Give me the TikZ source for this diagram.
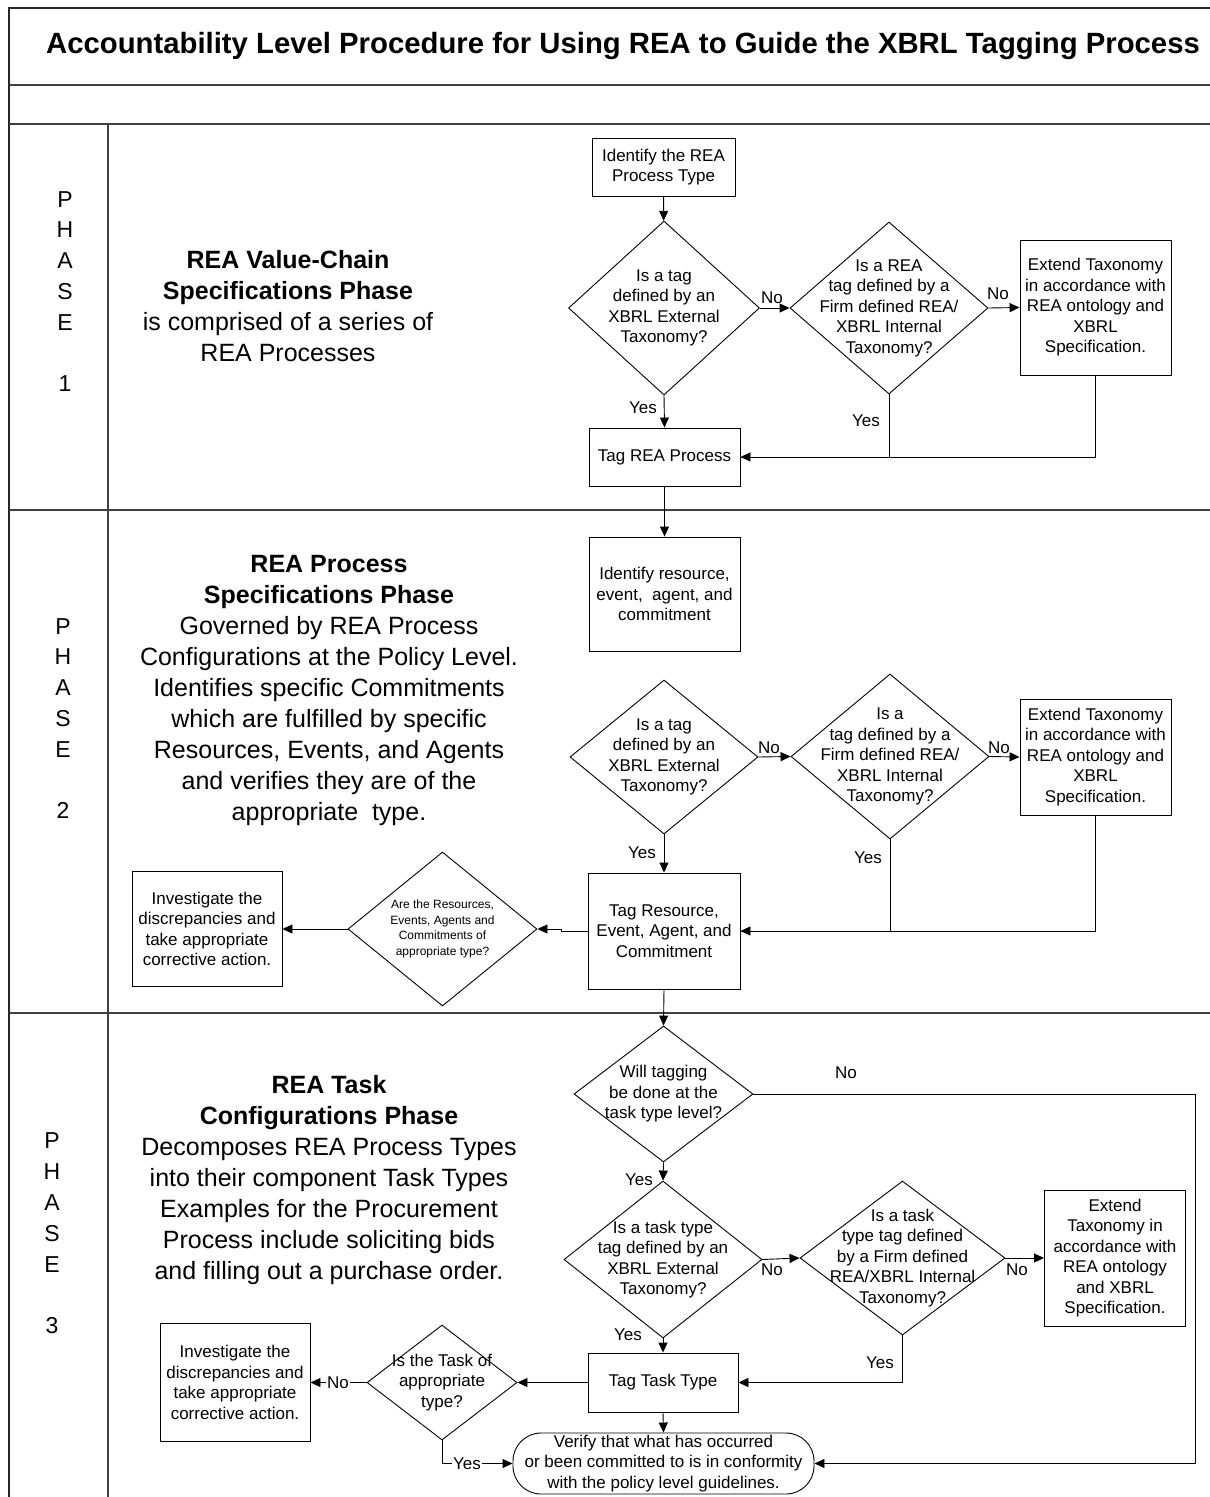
\documentclass[tikz,border=0pt]{standalone}
\usepackage{fontspec}
\setmainfont{Liberation Sans}
\usetikzlibrary{arrows.meta,shapes.geometric}
\newcommand\fsz{\fontsize{17}{20.5}\selectfont}
\newcommand\fsmall{\fontsize{12}{15.6}\selectfont}
\newcommand\fbig{\fontsize{25}{31}\selectfont}
\newcommand\fphase{\fontsize{23}{30.8}\selectfont}
\begin{document}
\begin{tikzpicture}[x=1pt,y=-1pt,
  frameouter/.style={draw=black!85,line width=1.8pt},
  frameinner/.style={draw=black!75,line width=1.3pt},
  box/.style={draw,line width=0.9pt,align=center,inner sep=0pt,font=\fsz},
  dia/.style={draw,diamond,line width=0.9pt,inner sep=0pt},
  dtxt/.style={align=center,inner sep=0pt,font=\fsz},
  lbl/.style={inner sep=1pt,font=\fsz},
  onlbl/.style={inner sep=1pt,font=\fsz,fill=white},
  arr/.style={-{Triangle[length=10pt,width=9pt]},line width=0.9pt},
  ln/.style={line width=0.9pt},
  sidetxt/.style={align=center,inner sep=0pt,font=\fbig},
  phasetxt/.style={align=center,inner sep=0pt,font=\fphase}]
\useasboundingbox (0,0) rectangle (1210,1497);
% frame
\draw[frameouter] (1210,8) -- (9,8) -- (9,1497);
\draw[frameinner] (9,85) -- (1210,85);
\draw[frameinner] (9,124) -- (1210,124);
\draw[frameinner] (108,124) -- (108,1497);
\draw[frameinner] (9,510) -- (1210,510);
\draw[frameinner] (9,1013) -- (1210,1013);
% title
\node[inner sep=0pt,font=\bfseries\fontsize{29.3}{35}\selectfont] (title) at (623,46) {Accountability Level Procedure for Using REA to Guide the XBRL Tagging Process};
% phase labels
\node[phasetxt] (ph1) at (65,291.5) {P\\H\\A\\S\\E\\\mbox{}\\1};
\node[phasetxt] (ph2) at (63,718.5) {P\\H\\A\\S\\E\\\mbox{}\\2};
\node[phasetxt] (ph3) at (52,1233.5) {P\\H\\A\\S\\E\\\mbox{}\\3};
% side texts
\node[sidetxt] (s1) at (288,306.5) {\textbf{REA Value-Chain}\\\textbf{Specifications Phase}\\is comprised of a series of\\REA Processes};
\node[sidetxt] (s2) at (329,690.5) {\textbf{REA Process}\\\textbf{Specifications Phase}\\Governed by REA Process\\Configurations at the Policy Level.\\Identifies specific Commitments\\which are fulfilled by specific\\Resources, Events, and Agents\\and verifies they are of the\\appropriate\ \ type.};
\node[sidetxt] (s3) at (329,1180) {\textbf{REA Task}\\\textbf{Configurations Phase}\\Decomposes REA Process Types\\into their component Task Types\\Examples for the Procurement\\Process include soliciting bids\\and filling out a purchase order.};
% ---------- phase 1
\node[box,minimum width=143pt,minimum height=58pt] (A) at (663.5,167) {Identify the REA\\Process Type};
\node[dia,minimum width=191pt,minimum height=174pt] (D1) at (664,308) {};
\node[dtxt] (D1t) at (D1.center) {Is a tag\\defined by an\\XBRL External\\Taxonomy?};
\node[dia,minimum width=198pt,minimum height=172pt] (D2) at (889,308) {};
\node[dtxt] (D2t) at (D2.center) {Is a REA\\tag defined by a\\Firm defined REA/\\XBRL Internal\\Taxonomy?};
\node[box,minimum width=151pt,minimum height=135pt] (E1) at (1095.5,307.5) {Extend Taxonomy\\in accordance with\\REA ontology and\\XBRL\\Specification.};
\node[box,minimum width=151pt,minimum height=58pt] (T1) at (664.5,457) {Tag REA Process};
\draw[arr] (A) -- (D1);
\draw[arr] (D1.east) -- (D2.west);
\draw[arr] (D2.east) -- (E1.west);
\draw[arr] (D1.south) -- (T1.north);
\draw[arr] (D2.south) |- (T1.east);
\draw[ln] (E1.south) |- (T1.east);
\node[lbl] (n1) at (772,298) {No};
\node[lbl] (n2) at (998,294) {No};
\node[lbl] (y1) at (643,408) {Yes};
\node[lbl] (y2) at (866,421) {Yes};
% ---------- phase 2
\node[box,minimum width=151pt,minimum height=114pt] (B) at (664.5,594) {Identify resource,\\event,\ \ agent, and\\commitment};
\node[dia,minimum width=188pt,minimum height=154pt] (D3) at (664,757) {};
\node[dtxt] (D3t) at (D3.center) {Is a tag\\defined by an\\XBRL External\\Taxonomy?};
\node[dia,minimum width=198pt,minimum height=165pt] (D4) at (890,756.5) {};
\node[dtxt] (D4t) at (D4.center) {Is a\\tag defined by a\\Firm defined REA/\\XBRL Internal\\Taxonomy?};
\node[box,minimum width=151pt,minimum height=116pt] (E2) at (1095.5,757) {Extend Taxonomy\\in accordance with\\REA ontology and\\XBRL\\Specification.};
\node[box,minimum width=152pt,minimum height=116pt] (T2) at (664,931) {Tag Resource,\\Event, Agent, and\\Commitment};
\node[dia,minimum width=189pt,minimum height=154pt] (D5) at (442.5,929) {};
\node[align=center,inner sep=0pt,font=\fsmall] (D5t) at (D5.center) {Are the Resources,\\Events, Agents and\\Commitments of\\appropriate type?};
\node[box,minimum width=150pt,minimum height=115pt] (I1) at (207,929) {Investigate the\\discrepancies and\\take appropriate\\corrective action.};
\coordinate (jog) at (561,931);
\draw[arr] (T2.west) -- (jog) |- (D5.east);
\draw[arr] (T1) -- (B);
\draw[arr] (D3.east) -- (D4.west);
\draw[arr] (D4.east) -- (E2.west);
\draw[arr] (D3.south) -- (T2.north);
\draw[arr] (D4.south) |- (T2.east);
\draw[ln] (E2.south) |- (T2.east);
\draw[arr] (D5.west) -- (I1.east);
\node[lbl] (n3) at (769,748) {No};
\node[lbl] (n4) at (999,748) {No};
\node[lbl] (y3) at (642,853) {Yes};
\node[lbl] (y4) at (868,858) {Yes};
% ---------- phase 3
\node[dia,minimum width=179pt,minimum height=136pt] (D6) at (663.5,1094) {};
\node[dtxt] (D6t) at (D6.center) {Will tagging\\be done at the\\task type level?};
\node[dia,minimum width=198pt,minimum height=157pt] (D7) at (663,1259.5) {};
\node[dtxt] (D7t) at (D7.center) {Is a task type\\tag defined by an\\XBRL External\\Taxonomy?};
\node[dia,minimum width=205pt,minimum height=154pt] (D8) at (902.5,1258) {};
\node[dtxt] (D8t) at (D8.center) {Is a task\\type tag defined\\by a Firm defined\\REA/XBRL Internal\\Taxonomy?};
\node[box,minimum width=141pt,minimum height=136pt] (E3) at (1115,1258) {Extend\\Taxonomy in\\accordance with\\REA ontology\\and XBRL\\Specification.};
\node[box,minimum width=150pt,minimum height=59pt] (T3) at (663,1382.5) {Tag Task Type};
\node[dia,minimum width=150pt,minimum height=115pt] (D9) at (442,1382.5) {};
\node[dtxt] (D9t) at (D9.center) {Is the Task of\\appropriate\\type?};
\node[box,minimum width=150pt,minimum height=118pt] (I2) at (235,1382.5) {Investigate the\\discrepancies and\\take appropriate\\corrective action.};
\node[box,rounded corners=28pt,minimum width=301pt,minimum height=61pt] (V) at (663.5,1463.5) {Verify that what has occurred\\or been committed to is in conformity\\with the policy level guidelines.};
\coordinate (cR1) at (1195,1094);
\draw[arr] (T2.south) -- (D6.north);
\draw[arr] (D6.east) -- (cR1) |- (V.east);
\draw[arr] (D6.south) -- (D7.north);
\draw[arr] (D7.east) -- (D8.west);
\draw[arr] (D8.east) -- (E3.west);
\draw[arr] (D7.south) -- (T3.north);
\draw[arr] (D8.south) |- (T3.east);
\draw[arr] (T3.west) -- (D9.east);
\draw[arr] (D9.west) -- (I2.east);
\draw[arr] (T3.south) -- (V.north);
\draw[arr] (D9.south) |- (V.west);
\node[lbl] (n5) at (846,1073) {No};
\node[lbl] (y5) at (639,1180) {Yes};
\node[lbl] (n6) at (772,1270) {No};
\node[lbl] (n7) at (1017,1270) {No};
\node[lbl] (y6) at (628,1335) {Yes};
\node[lbl] (y7) at (880,1363) {Yes};
\node[onlbl] (n8) at (338,1382.5) {No};
\node[onlbl] (y8) at (467,1463.5) {Yes};
\end{tikzpicture}
\end{document}
